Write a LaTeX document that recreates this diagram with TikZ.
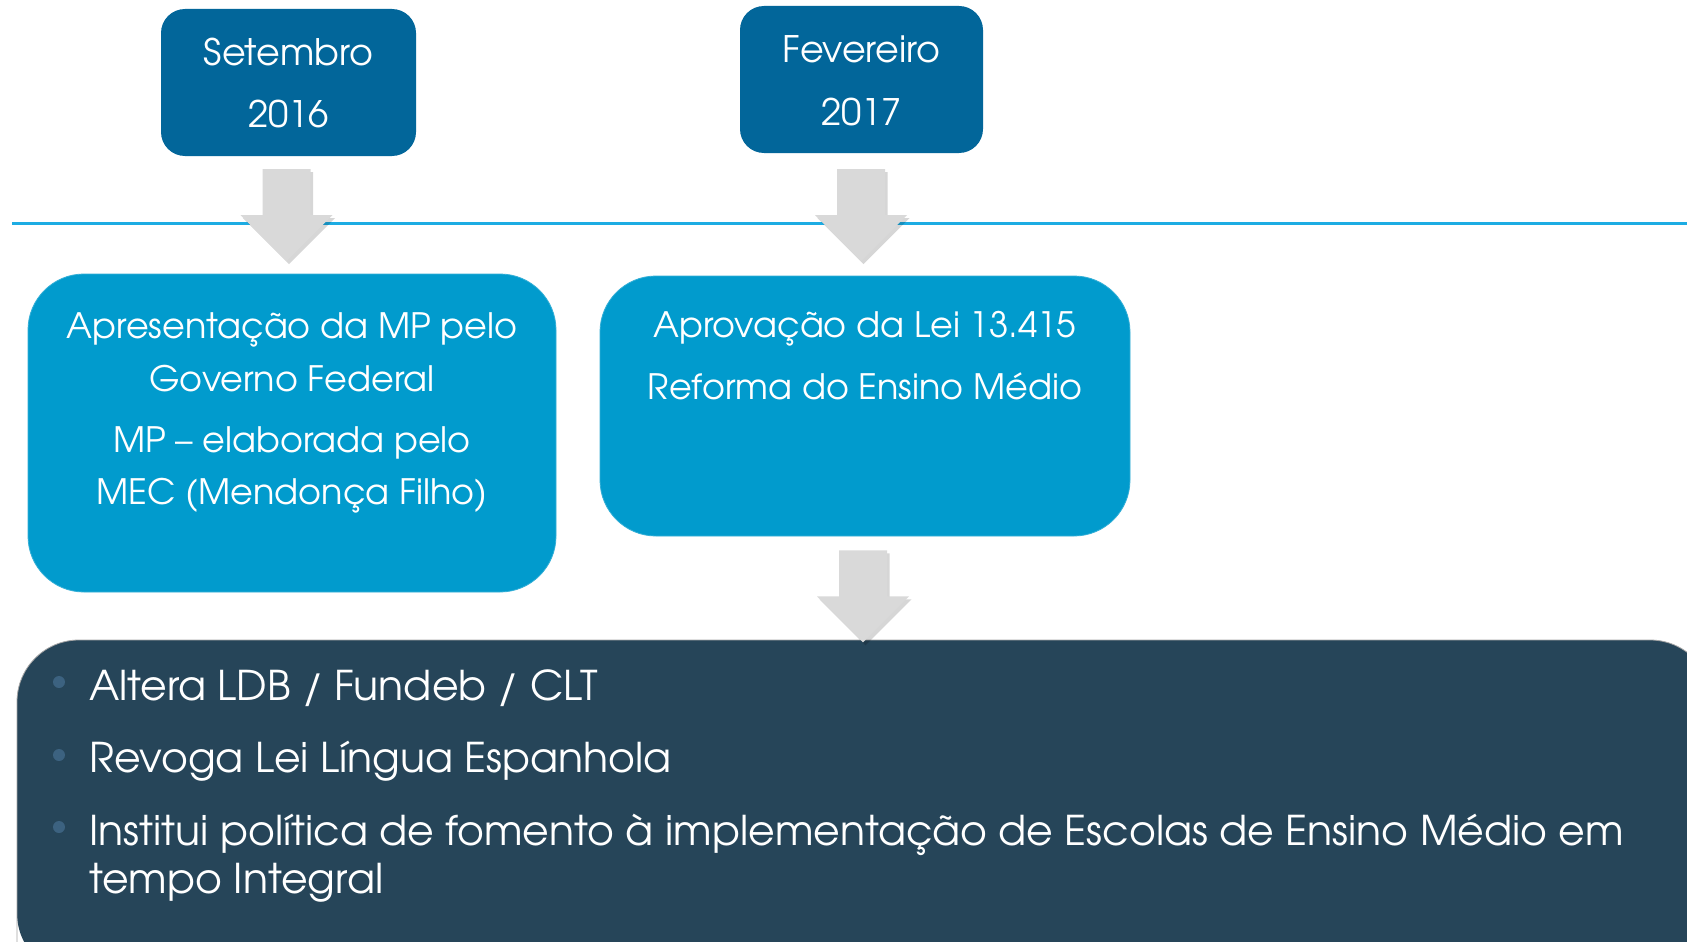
\documentclass[tikz,border=0pt]{standalone}
\usepackage{fontspec}
\setmainfont{texgyreadventor}[Extension=.otf, UprightFont=*-regular, BoldFont=*-bold, ItalicFont=*-italic, BoldItalicFont=*-bolditalic]
\usetikzlibrary{calc}
\definecolor{dateblue}{RGB}{2,102,154}
\definecolor{boxblue}{RGB}{1,155,205}
\definecolor{tlblue}{RGB}{29,172,227}
\definecolor{darkbox}{RGB}{38,69,89}
\definecolor{dotcol}{RGB}{60,98,128}
\definecolor{arrowgray}{RGB}{217,217,217}
\tikzset{
  datebox/.style={rectangle, rounded corners=24pt, fill=dateblue, minimum width=255pt, minimum height=147pt, inner sep=0pt},
  eventbox/.style={rectangle, rounded corners=56pt, fill=boxblue, draw=boxblue!80!white, line width=0.8pt, inner sep=0pt},
  datetext/.style={text=white, font=\fontsize{36.5pt}{40pt}\selectfont, anchor=base, inner sep=0pt},
  evtext/.style={text=white, font=\fontsize{35pt}{40pt}\selectfont, anchor=base, inner sep=0pt},
  bultext/.style={text=white, font=\fontsize{41pt}{46pt}\selectfont, anchor=base west, inner sep=0pt},
  bulletdot/.style={circle, fill=dotcol, minimum size=12pt, inner sep=0pt},
  timeline/.style={draw=tlblue, line width=3pt},
  blockarrow/.style={fill=arrowgray},
  arrowshadow/.style={fill=black, opacity=0.16},
}
\newcommand{\downarrowblock}[2]{%
  \fill[arrowshadow] ($(#1)+(-21.5,3)$) -- ++(48,0) -- ++(0,46) -- ++(22,0) -- ++(-46,46) -- ++(-46,-46) -- ++(22,0) -- cycle;
  \fill[blockarrow] ($(#1)+(-24,0)$) -- ++(48,0) -- ++(0,46) -- ++(22,0) -- ++(-46,46) coordinate (#2) -- ++(-46,-46) -- ++(22,0) -- cycle;
}
\begin{document}
\begin{tikzpicture}[x=1pt,y=-1pt]
\useasboundingbox (0,0) rectangle (1687,942);
\clip (0,0) rectangle (1687,942);
\fill[white] (0,0) rectangle (1687,942);

% timeline
\coordinate (tlL) at (12,223);
\coordinate (tlR) at (1687,223);
\draw[timeline] (tlL) -- (tlR);

% date boxes
\node[datebox] (d1) at (288.5,82.5) {};
\node[datetext] (d1a) at (288.5,66) {Setembro};
\node[datetext] (d1b) at (288.5,127) {2016};
\node[datebox, minimum width=243pt] (d2) at (861.5,79.5) {};
\node[datetext] (d2a) at (861.5,63) {Fevereiro};
\node[datetext] (d2b) at (861.5,125) {2017};

% event boxes
\node[eventbox, minimum width=528pt, minimum height=318pt] (e1) at (292,433) {};
\node[evtext] (e1a) at (292,338) {Apresentação da MP pelo};
\node[evtext] (e1b) at (292,391) {Governo Federal};
\node[evtext] (e1c) at (292,452) {MP – elaborada pelo};
\node[evtext] (e1d) at (292,504) {MEC (Mendonça Filho)};
\node[eventbox, minimum width=530pt, minimum height=260pt] (e2) at (865,406) {};
\node[evtext] (e2a) at (865,337) {Aprovação da Lei 13.415};
\node[evtext] (e2b) at (865,399) {Reforma do Ensino Médio};

% dark box
\fill[darkbox, rounded corners=62pt] (17,640) rectangle (1712,975);
\draw[gray!70, line width=0.8pt, rounded corners=62pt] (17,975) -- (17,640) -- (1712,640) -- (1712,975);
\node[inner sep=0pt, minimum size=0pt] (db) at (864,640) {};
\node[bulletdot] (b1) at (59,682) {};
\node[bultext] (t1) at (89,700) {Altera LDB / Fundeb / CLT};
\node[bulletdot] (b2) at (59,755) {};
\node[bultext] (t2) at (89,772) {Revoga Lei Língua Espanhola};
\node[bulletdot] (b3) at (59,827) {};
\node[bultext] (t3) at (89,845) {Institui política de fomento à implementação de Escolas de Ensino Médio em};
\node[bultext] (t4) at (89,893) {tempo Integral};

% arrows
\coordinate (a1top) at ($(d1.south)+(-2,13)$);
\downarrowblock{a1top}{a1tip}
\coordinate (a2top) at ($(d2.south)+(-0.5,16)$);
\downarrowblock{a2top}{a2tip}
\coordinate (a3top) at ($(e2.south)+(-2,14)$);
\downarrowblock{a3top}{a3tip}
\end{tikzpicture}
\end{document}
